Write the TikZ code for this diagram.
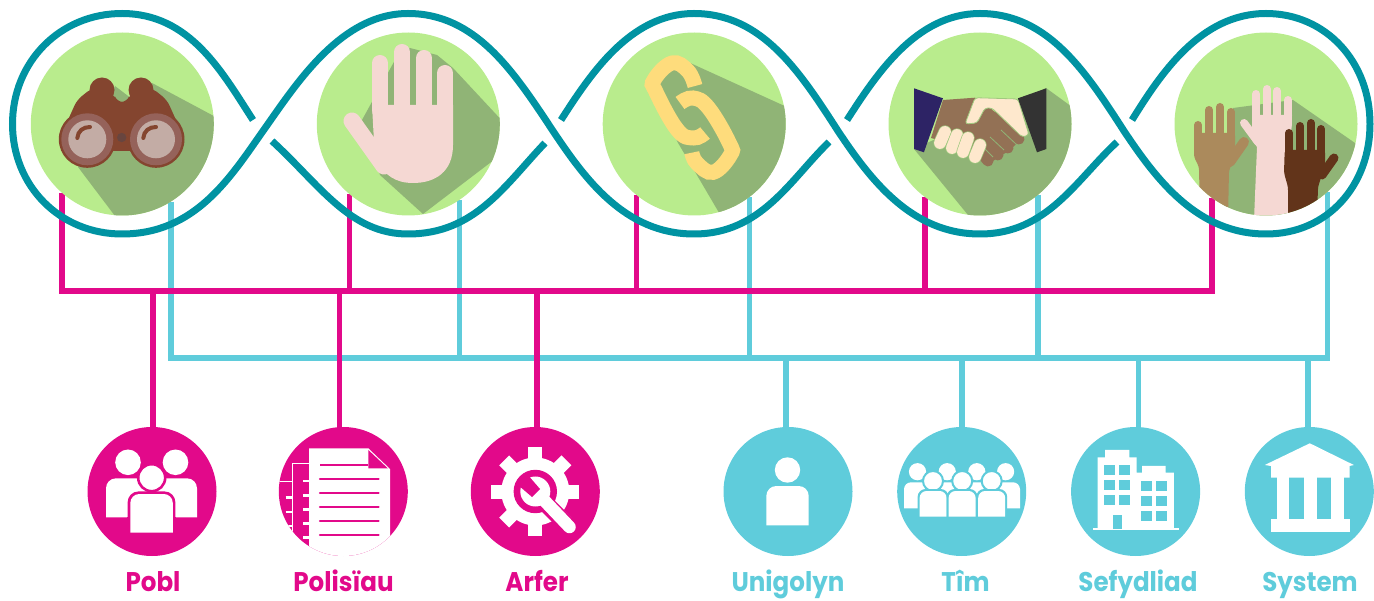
\documentclass[tikz,border=0pt]{standalone}
\usepackage{fontspec}
\usepackage{xcolor}
\usetikzlibrary{backgrounds}
\newfontfamily\namefont{Poppins}
\newcommand{\iconname}[1]{\scalebox{.91}[1]{#1}}

\definecolor{wavecol}{HTML}{0093A2}
\definecolor{pinkcol}{HTML}{E2098A}
\definecolor{bluecol}{HTML}{5FCCDB}
\definecolor{eyecol}{HTML}{B9EC8D}
\definecolor{shadecol}{HTML}{90B476}
\definecolor{skincol}{HTML}{F5D8D3}
\definecolor{browncol}{HTML}{84452F}
\definecolor{ringcol}{HTML}{95625A}
\definecolor{lenscol}{HTML}{C3ACA5}
\definecolor{linkcol}{HTML}{FEDC7C}
\definecolor{shakecol}{HTML}{937155}
\definecolor{creamcol}{HTML}{FEE8CD}
\definecolor{navycol}{HTML}{2D2365}
\definecolor{cuffcol}{HTML}{333333}
\definecolor{tancol}{HTML}{AB8A5C}
\definecolor{darkcol}{HTML}{62341A}

\begin{document}
\begin{tikzpicture}[x=1pt,y=-1pt,
        eyedisc/.style={circle,fill=eyecol,minimum size=183pt,inner sep=0pt},
        pinkdisc/.style={circle,fill=pinkcol,minimum size=129pt,inner sep=0pt},
        bluedisc/.style={circle,fill=bluecol,minimum size=129pt,inner sep=0pt},
        pinkline/.style={pinkcol,line width=5.7pt},
        blueline/.style={bluecol,line width=5.7pt},
        waveline/.style={wavecol,line width=7pt},
        finger/.style={line cap=round},
        pinkname/.style={text=pinkcol,anchor=base,inner sep=0pt,font=\namefont\bfseries\fontsize{27}{27}\selectfont},
        bluename/.style={text=bluecol,anchor=base,inner sep=0pt,font=\namefont\bfseries\fontsize{27}{27}\selectfont}]
    \useasboundingbox (0,0) rectangle (1374,601);

    \node[eyedisc] (eyeA) at (122.3,124) {};
    \node[eyedisc] (eyeB) at (408.3,124) {};
    \node[eyedisc] (eyeC) at (694.2,124) {};
    \node[eyedisc] (eyeD) at (980,124) {};
    \node[eyedisc] (eyeE) at (1266,124) {};

    \node[pinkdisc] (pobl) at (152,491.5) {};
    \node[pinkdisc] (polisiau) at (343.3,491.5) {};
    \node[pinkdisc] (arfer) at (535.3,491.5) {};
    \node[bluedisc] (unigolyn) at (788,491.5) {};
    \node[bluedisc] (tim) at (961.7,491.5) {};
    \node[bluedisc] (sefydliad) at (1135.6,491.5) {};
    \node[bluedisc] (system) at (1309.3,491.5) {};

    \coordinate (pinkbus) at (62.3,291);
    \coordinate (bluebus) at (170.3,357.8);
    \coordinate (poblbus) at (152.7,291);
    \coordinate (polbus) at (339.5,291);
    \coordinate (arfbus) at (537.3,291);
    \coordinate (unibus) at (786,357.8);
    \coordinate (timbus) at (961.7,357.8);
    \coordinate (sefbus) at (1138.5,357.8);
    \coordinate (sysbus) at (1308,357.8);

    \begin{scope}[on background layer]
        \foreach \e/\a in {eyeA/-58,eyeB/-56,eyeC/-53.5,eyeD/-51,eyeE/-48}
            \draw[blueline] (\e.\a) -- (\e.\a |- bluebus);
        \draw[blueline] ([xshift=-2.85pt]eyeA.-58 |- bluebus) -- ([xshift=2.85pt]eyeE.-48 |- bluebus);
        \draw[blueline] (unibus) -- (unibus |- unigolyn.center);
        \draw[blueline] (timbus) -- (timbus |- tim.center);
        \draw[blueline] (sefbus) -- (sefbus |- sefydliad.center);
        \draw[blueline] (sysbus) -- (sysbus |- system.center);

        \foreach \e/\a in {eyeA/-131,eyeB/-130,eyeC/-129,eyeD/-127,eyeE/-126}
            \draw[pinkline] (\e.\a) -- (\e.\a |- pinkbus);
        \draw[pinkline] ([xshift=-2.85pt]eyeA.-131 |- pinkbus) -- ([xshift=2.85pt]eyeE.-126 |- pinkbus);
        \draw[pinkline] (poblbus) -- (poblbus |- pobl.center);
        \draw[pinkline] (polbus) -- (polbus |- polisiau.center);
        \draw[pinkline] (arfbus) -- (arfbus |- arfer.center);
    \end{scope}

    % binoculars
    \begin{scope}
        \clip (eyeA.center) circle (91.5);
        \fill[shadecol] (115,86) -- (132,99) -- (152,83) -- (240,130) -- (213,240) -- (115,216) -- (78,167) -- cycle;
        \fill[browncol,rounded corners=6] (59,140) -- (77,100) -- (92,88) -- (114,94) -- (117,102) -- (127,102) -- (130,94) -- (152,88) -- (167,100) -- (185,140) -- (156,150) -- (130,151) -- (114,151) -- (87,150) -- cycle;
        \fill[browncol] (102,90) circle (12.5);
        \fill[browncol] (141,90) circle (12.5);
        \fill[browncol] (87.3,139.3) circle (28.5);
        \fill[browncol] (156,139.3) circle (28.5);
        \fill[ringcol] (87.3,139.3) circle (26);
        \fill[ringcol] (156,139.3) circle (26);
        \fill[lenscol] (87.3,139.3) circle (19);
        \fill[lenscol] (156,139.3) circle (19);
        \fill[ringcol!70!black] (121.7,137.5) circle (4.7);
        \draw[browncol,line width=4pt,finger] (77.3,138) .. controls (78,131) and (83,127) .. (90,127);
        \draw[browncol,line width=4pt,finger] (143.3,138) .. controls (144,131) and (149,127) .. (156,127);
    \end{scope}

    % open hand
    \begin{scope}
        \clip (eyeB.center) circle (91.5);
        \fill[shadecol] (395,60) -- (410,48) -- (437,55) -- (453,68) -- (520,140) -- (423,214) -- (380,175) -- (362,120) -- cycle;
        \foreach \fx/\fy in {380/63,402/52,424/58,445/73}
            \draw[skincol,line width=16pt,finger] (\fx,\fy) -- (\fx,110);
        \fill[skincol] (372,105) -- (453,105) -- (453,145) .. controls (453,172) and (435,183) .. (413,183) .. controls (395,183) and (385,175) .. (375,160) -- cycle;
        \draw[skincol,line width=17pt,finger] (352,121) -- (384,166);
    \end{scope}

    % chain
    \begin{scope}
        \clip (eyeC.center) circle (91.5);
        \fill[shadecol] (688,62) -- (800,113) -- (800,240) -- (718.6,212) -- (677.5,142) -- (652,80) -- (672,62) -- cycle;
        \draw[linkcol,line width=15pt] plot[smooth,tension=.7] coordinates {(695,86) (688,71) (672,63) (654,80) (656,92) (677.5,130) (693.6,138) (705,133)};
        \draw[linkcol,line width=15pt] plot[smooth,tension=.7] coordinates {(680,103) (693,98) (708.6,108) (729.3,143) (730.4,155) (713.2,172.3) (697,163.3) (691.8,152.7)};
    \end{scope}

    % handshake
    \begin{scope}
        \clip (eyeD.center) circle (91.5);
        \fill[shadecol] (1046,88) -- (1090,120) -- (1090,240) -- (968,215) -- (914,149) -- cycle;
        \fill[shakecol] (943,100) -- (975,97.7) -- (990,108) -- (1024,136) -- (1010,150) -- (990,163) -- (978,150) -- (931,138) -- cycle;
        \foreach \ax/\ay/\bx/\by in {1000/115/1019/139,990/125/1008/148,982/135/998/155,975/145/988/161}
            \draw[shakecol,line width=11pt,finger] (\ax,\ay) -- (\bx,\by);
        \foreach \ax/\ay/\bx/\by in {1001/130/1017/145,990/137/1004/150,983/147/993/157}
            \draw[shadecol,line width=.8pt] (\ax,\ay) -- (\bx,\by);
        \fill[creamcol,draw=shadecol!60!eyecol,line width=.8pt,rounded corners=3] (975,97.7) -- (1018,99) -- (1029,135) -- (1022,137) -- (992,108) -- (985,108) -- (977,123) -- (965,124) -- cycle;
        \foreach \ax/\ay/\bx/\by in {945/132/940/143,957/135/952/148,968/138/963/152,980/145/975/157}{
            \draw[shadecol!60!eyecol,line width=13.2pt,finger] (\ax,\ay) -- (\bx,\by);
            \draw[creamcol,line width=11.8pt,finger] (\ax,\ay) -- (\bx,\by);
        }
        \fill[cuffcol] (1017.9,98.3) -- (1046.4,88.3) -- (1046.4,149) -- (1037,152.3) -- cycle;
        \fill[navycol] (914,88.3) -- (942.9,98.3) -- (923.9,152.3) -- (914,149) -- cycle;
    \end{scope}

    % raised hands
    \begin{scope}
        \clip (eyeE.center) circle (91.5);
        \fill[shadecol] (1233,108) -- (1293,100) -- (1355,143) -- (1380,240) -- (1220,240) -- (1228,172) -- cycle;
        \foreach \fx/\fy in {1198/125,1209/110,1220/107,1231/112}
            \draw[tancol,line width=8pt,finger] (\fx,\fy) -- (\fx,140);
        \fill[tancol,rounded corners=3] (1194,133) -- (1235,133) -- (1235,158) -- (1229,170) -- (1228,220) -- (1200,220) -- (1199,167) -- (1194,157) -- cycle;
        \draw[tancol,line width=10pt,finger] (1230,162) -- (1244,142);

        \draw[skincol,line width=8pt,finger] (1244,123) -- (1258,142);
        \foreach \fx/\fy in {1256/94,1267/89,1277/91,1288/100}
            \draw[skincol,line width=8pt,finger] (\fx,\fy) -- (\fx,125);
        \fill[skincol] (1252,115) -- (1292,115) -- (1288,220) -- (1254,220) -- (1257,147) -- (1252,140) -- cycle;

        \foreach \fx/\fy in {1289/133,1300/126,1311/123,1321/129}
            \draw[darkcol,line width=8pt,finger] (\fx,\fy) -- (\fx,160);
        \fill[darkcol,rounded corners=3] (1284.7,150) -- (1325,150) -- (1325,165) -- (1318,187) -- (1317,220) -- (1288,220) -- (1288,187) -- (1284,173) -- cycle;
        \draw[darkcol,line width=9pt,finger] (1322,175) -- (1334,158);
    \end{scope}

    % wave
    \draw[waveline] (253,120) .. controls (222,72) and (190,13.5) .. (122,13.5)
        .. controls (60,13.5) and (12.5,62) .. (12.5,124)
        .. controls (12.5,186) and (60,234) .. (122,234)
        .. controls (195,234) and (230,178) .. (263,131)
        .. controls (295,86) and (340,13.5) .. (408,13.5)
        .. controls (476,13.5) and (514,72) .. (553,131)
        .. controls (585,179) and (625,234) .. (694,234)
        .. controls (761,234) and (790,180) .. (829,142);
    \draw[waveline] (272,141) .. controls (320,185) and (350,234) .. (408,234)
        .. controls (475,234) and (505,185) .. (545,143);
    \draw[waveline] (561,120) .. controls (590,75) and (630,13.5) .. (694,13.5)
        .. controls (762,13.5) and (800,72) .. (838,131)
        .. controls (870,179) and (911,234) .. (980,234)
        .. controls (1047,234) and (1076,180) .. (1117,142);
    \draw[waveline] (847,120) .. controls (876,75) and (916,13.5) .. (980,13.5)
        .. controls (1048,13.5) and (1086,72) .. (1124,131)
        .. controls (1156,179) and (1197,234) .. (1266,234)
        .. controls (1328,234) and (1370,185) .. (1370,124)
        .. controls (1370,62) and (1326,13.5) .. (1266,13.5)
        .. controls (1200,13.5) and (1160,75) .. (1132,120);

    % pobl icon
    \fill[white] (128,462.3) circle (12.8);
    \fill[white] (175.5,462.3) circle (12.8);
    \fill[white,rounded corners=10] (106,517.3) -- (106,478.3) -- (197,478.3) -- (197,517.3);
    \draw[pinkcol,line width=2.6pt,fill=white] (151.7,477.7) circle (13.5);
    \fill[pinkcol,rounded corners=11] (127.6,540) -- (127.6,491.4) -- (175.4,491.4) -- (175.4,540);
    \fill[white,rounded corners=9] (130.3,532.7) -- (130.3,494) -- (172.8,494) -- (172.8,532.7);
    \fill[pinkcol] (127,517.3) rectangle (130.3,532.7);
    \fill[pinkcol] (172.8,517.3) rectangle (176,532.7);

    % polisiau icon
    \begin{scope}
        \clip (polisiau.center) circle (64.5);
        \draw[white,line width=1.3pt] (309,463.5) -- (292.7,463.5) -- (292.7,540);
        \foreach \dy in {481,495.3,509.3,523.3,537.3}
            \draw[white,line width=2.4pt] (303,\dy) -- (310,\dy);
        \draw[white,line width=1.3pt] (278,481.7) -- (292,481.7);
        \foreach \dy in {497.3,511.7,526}
            \draw[white,line width=2.4pt] (285.5,\dy) -- (292,\dy);
        \fill[white] (309,448.3) -- (368.3,448.3) -- (390,469) -- (390,560) -- (309,560) -- cycle;
        \fill[pinkcol] (368.3,450) -- (368.3,468.5) -- (388,468.5) -- cycle;
        \draw[pinkcol,line width=2.3pt] (320,465) -- (368.3,465);
        \foreach \dy in {479.3,493.3,507.3,521.3,535.3}
            \draw[pinkcol,line width=2.3pt,finger] (320,\dy) -- (378.6,\dy);
    \end{scope}

    % arfer icon
    \foreach \a in {0,45,...,315}
        \draw[white,line width=14pt] (arfer.center) -- ([shift={(\a:44)}]arfer.center);
    \fill[white] (arfer.center) circle (34);
    \fill[pinkcol] (arfer.center) circle (21.7);
    \fill[pinkcol] (548,494) -- (572,518) -- (560,530) -- (535,505) -- cycle;
    \fill[white] (arfer.center) circle (15);
    \draw[white,line width=12.5pt,finger] (540,496) -- (569.5,527);
    \fill[pinkcol] (518,485) -- (532,497) -- (540,489) -- (527,474) -- cycle;

    % unigolyn icon
    \fill[white] (787.5,470) circle (12.7);
    \fill[white,rounded corners=10] (766.3,525.3) -- (766.3,486) -- (808.7,486) -- (808.7,525.3);

    % tim icon
    \foreach \hx in {917.5,947.2,976.8,1005.6}
        \fill[white] (\hx,471.7) circle (8.6);
    \fill[white,rounded corners=7] (904,508.3) -- (904,482.3) -- (1020,482.3) -- (1020,508.3);
    \foreach \hx/\hy in {933/919.6,962.2/948.6,991.7/978.2}{
        \draw[bluecol,line width=2pt,fill=white] (\hx,481) circle (10);
        \fill[bluecol,rounded corners=8] (\hy-2,520) -- (\hy-2,489) -- (\hy+29,489) -- (\hy+29,520);
        \fill[white,rounded corners=7] (\hy,516.7) -- (\hy,491) -- (\hy+27,491) -- (\hy+27,516.7);
    }

    % sefydliad icon
    \fill[white] (1097.5,528) -- (1097.5,457.3) -- (1105,457.3) -- (1105,450) -- (1129.3,450) -- (1129.3,457.3) -- (1136.5,457.3) -- (1136.5,472.7) -- (1142,472.7) -- (1142,466) -- (1165.5,466) -- (1165.5,472.7) -- (1173.8,472.7) -- (1173.8,528) -- cycle;
    \fill[white] (1092.5,527.7) rectangle (1179,530);
    \foreach \wx in {1104,1119}
        \foreach \wy in {465,480,495}
            \fill[bluecol] (\wx,\wy) rectangle +(11,10);
    \foreach \wx in {1141.2,1156}
        \foreach \wy in {481,496,511}
            \fill[bluecol] (\wx,\wy) rectangle +(11,10);
    \fill[bluecol] (1113.2,515) rectangle (1122.1,529);

    % system icon
    \fill[white] (1309.8,443.3) -- (1353.8,465) -- (1349.6,466) -- (1349.6,477.7) -- (1271,477.7) -- (1271,466) -- (1264.8,465) -- cycle;
    \foreach \cx in {1276.7,1304,1331}
        \fill[white] (\cx,477) rectangle +(12.7,43);
    \fill[white] (1271,519) rectangle (1349.6,531.7);

    \node[pinkname] (poblname) at (153,591) {\iconname{Pobl}};
    \node[pinkname] (polname) at (343.5,591) {\iconname{Polisïau}};
    \node[pinkname] (arfname) at (537,591) {\iconname{Arfer}};
    \node[bluename] (uniname) at (788,591) {\iconname{Unigolyn}};
    \node[bluename] (timname) at (965.5,591) {\iconname{Tîm}};
    \node[bluename] (sefname) at (1138,591) {\iconname{Sefydliad}};
    \node[bluename] (sysname) at (1310,591) {\iconname{System}};
\end{tikzpicture}
\end{document}
